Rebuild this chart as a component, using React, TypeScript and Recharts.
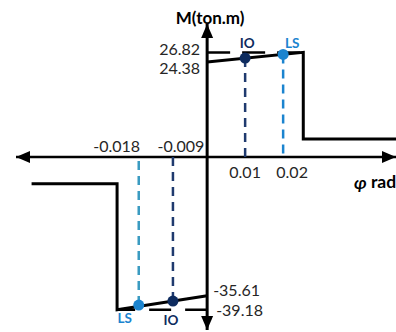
import { ComposedChart, Line, Scatter, XAxis, YAxis, ReferenceLine } from "recharts";

// moment–rotation backbone (schematic), phi in rad, M in ton.m
const phiDomain = [-0.0503, 0.0497];
const momentDomain = [-44.4, 34.1];

const positiveBranch = [
  { phi: 0, m: 24.38 },
  { phi: 0.0253, m: 26.82 },
  { phi: 0.0253, m: 4.6 },
  { phi: 0.0497, m: 4.6 },
];
const negativeBranch = [
  { phi: -0.0462, m: -6.9 },
  { phi: -0.0237, m: -6.9 },
  { phi: -0.0237, m: -39.18 },
  { phi: 0, m: -35.61 },
];
const positiveCap = [
  { phi: 0, m: 26.82 },
  { phi: 0.0253, m: 26.82 },
];
const negativeCap = [
  { phi: 0, m: -39.18 },
  { phi: -0.0237, m: -39.18 },
];

const levelNames = ["IO", "LS", "IO", "LS"];
const levelPhi = [0.01, 0.02, -0.009, -0.018];
const levelMoment = [25.35, 26.3, -36.97, -38.0];

const phiTickValues = [-0.018, -0.009, 0.01, 0.02];
const phiTickText = ["-0.018", "-0.009", "0.01", "0.02"];
const momentTickValues = [26.82, 24.38, -35.61, -39.18];
const momentTickText = ["26.82", "24.38", "-35.61", "-39.18"];

const arrowTips = [
  { phi: phiDomain[0], m: 0 },
  { phi: phiDomain[1], m: 0 },
  { phi: 0, m: momentDomain[1] },
  { phi: 0, m: momentDomain[0] },
];

const NAVY = "#0d2b5e";
const NAVY_DASH = "#1f3a6e";
const BLUE = "#1b84cf";
const TEAL = "#3a9bc1";
const FONT = "Lato, 'Open Sans', sans-serif";

const levels = levelNames.map((name, i) => ({ name, phi: levelPhi[i], m: levelMoment[i] }));
const phiLabels = phiTickValues.map((phi, i) => ({ phi, m: 0, text: phiTickText[i] }));
const momentLabels = momentTickValues.map((m, i) => ({ phi: 0, m, text: momentTickText[i] }));

// label offsets in px, relative to the data point
const phiOffsets: Record<string, [number, number]> = {
  "-0.018": [-22, -11],
  "-0.009": [8, -11],
  "0.01": [0, 15],
  "0.02": [9, 15],
};
const momentOffsets: Record<string, [number, number, string]> = {
  "26.82": [-7, -4, "end"],
  "24.38": [-7, 6, "end"],
  "-35.61": [6, -6, "start"],
  "-39.18": [9, 0, "start"],
};
const levelOffsets = [
  [2, -15],
  [9, -11],
  [-2, 19],
  [-14, 13],
];

function ArrowHead(props: any) {
  const { cx, cy, payload } = props;
  const len = 14;
  const half = 6;
  let pts = "";
  if (payload.m === 0 && payload.phi < 0) pts = `${cx},${cy} ${cx + len},${cy - half} ${cx + len},${cy + half}`;
  else if (payload.m === 0) pts = `${cx},${cy} ${cx - len},${cy - half} ${cx - len},${cy + half}`;
  else if (payload.m > 0) pts = `${cx},${cy} ${cx - half},${cy + len} ${cx + half},${cy + len}`;
  else pts = `${cx},${cy} ${cx - half},${cy - len} ${cx + half},${cy - len}`;
  return <polygon points={pts} fill="#000" />;
}

function dashedDrop(phi: number, m: number) {
  return [
    { phi, m },
    { phi, m: 0 },
  ];
}

export default function App() {
  return (
    <div style={{ position: "absolute", left: 0, top: 0, width: 396, height: 332, background: "#fff", overflow: "hidden" }}>
      <ComposedChart width={396} height={332} margin={{ top: 24, right: 0, bottom: 2, left: 16 }}>
        <XAxis type="number" dataKey="phi" domain={phiDomain} hide />
        <YAxis type="number" dataKey="m" domain={momentDomain} hide />

        <ReferenceLine y={0} stroke="#000" strokeWidth={2.5} />
        <ReferenceLine x={0} stroke="#000" strokeWidth={3} />

        {levels.map((lv, i) => (
          <Line
            key={"drop" + i}
            data={dashedDrop(lv.phi, lv.m)}
            dataKey="m"
            type="linear"
            stroke={lv.name === "IO" ? NAVY_DASH : lv.m > 0 ? BLUE : TEAL}
            strokeWidth={2.5}
            strokeDasharray="9 6"
            dot={false}
            activeDot={false}
            isAnimationActive={false}
          />
        ))}

        <Line data={positiveCap} dataKey="m" type="linear" stroke="#000" strokeWidth={2.5} strokeDasharray="23 12" dot={false} activeDot={false} isAnimationActive={false} />
        <Line data={negativeCap} dataKey="m" type="linear" stroke="#000" strokeWidth={2.5} strokeDasharray="22 14" dot={false} activeDot={false} isAnimationActive={false} />

        <Line data={positiveBranch} dataKey="m" type="linear" stroke="#000" strokeWidth={3} dot={false} activeDot={false} isAnimationActive={false} />
        <Line data={negativeBranch} dataKey="m" type="linear" stroke="#000" strokeWidth={3} dot={false} activeDot={false} isAnimationActive={false} />

        <Scatter
          data={levels}
          dataKey="m"
          isAnimationActive={false}
          shape={(p: any) => (
            <circle cx={p.cx} cy={p.cy} r={5.5} fill={p.payload.name === "IO" ? NAVY : BLUE} />
          )}
        />
        <Scatter
          data={levels}
          dataKey="m"
          isAnimationActive={false}
          shape={(p: any) => {
            const i = levels.findIndex((l) => l.phi === p.payload.phi);
            const [dx, dy] = levelOffsets[i];
            return (
              <text
                x={p.cx + dx}
                y={p.cy + dy}
                textAnchor="middle"
                dominantBaseline="central"
                fontFamily={FONT}
                fontWeight="bold"
                fontSize={13.5}
                fill={p.payload.name === "IO" ? NAVY : BLUE}
              >
                {p.payload.name}
              </text>
            );
          }}
        />

        <Scatter data={arrowTips} dataKey="m" isAnimationActive={false} shape={ArrowHead} />

        <Scatter
          data={phiLabels}
          dataKey="m"
          isAnimationActive={false}
          shape={(p: any) => {
            const [dx, dy] = phiOffsets[p.payload.text];
            return (
              <text x={p.cx + dx} y={p.cy + dy} textAnchor="middle" dominantBaseline="central" fontFamily={FONT} fontSize={16} fill="#262626">
                {p.payload.text}
              </text>
            );
          }}
        />
        <Scatter
          data={momentLabels}
          dataKey="m"
          isAnimationActive={false}
          shape={(p: any) => {
            const [dx, dy, anchor] = momentOffsets[p.payload.text];
            return (
              <text x={p.cx + dx} y={p.cy + dy} textAnchor={anchor as any} dominantBaseline="central" fontFamily={FONT} fontSize={16} fill="#262626">
                {p.payload.text}
              </text>
            );
          }}
        />
        <Scatter
          data={[{ phi: 0, m: momentDomain[1], text: "M(ton.m)" }]}
          dataKey="m"
          isAnimationActive={false}
          shape={(p: any) => (
            <text x={p.cx + 3} y={p.cy - 7} textAnchor="middle" dominantBaseline="central" fontFamily={FONT} fontWeight="bold" fontSize={17} fill="#000">
              {p.payload.text}
            </text>
          )}
        />
        <Scatter
          data={[{ phi: phiDomain[1], m: 0 }]}
          dataKey="m"
          isAnimationActive={false}
          shape={(p: any) => (
            <text x={p.cx - 42} y={p.cy + 25} dominantBaseline="central" fontFamily={FONT} fontWeight="bold" fontSize={17.5} fill="#000">
              <tspan fontStyle="italic">φ</tspan> rad
            </text>
          )}
        />
      </ComposedChart>
    </div>
  );
}
